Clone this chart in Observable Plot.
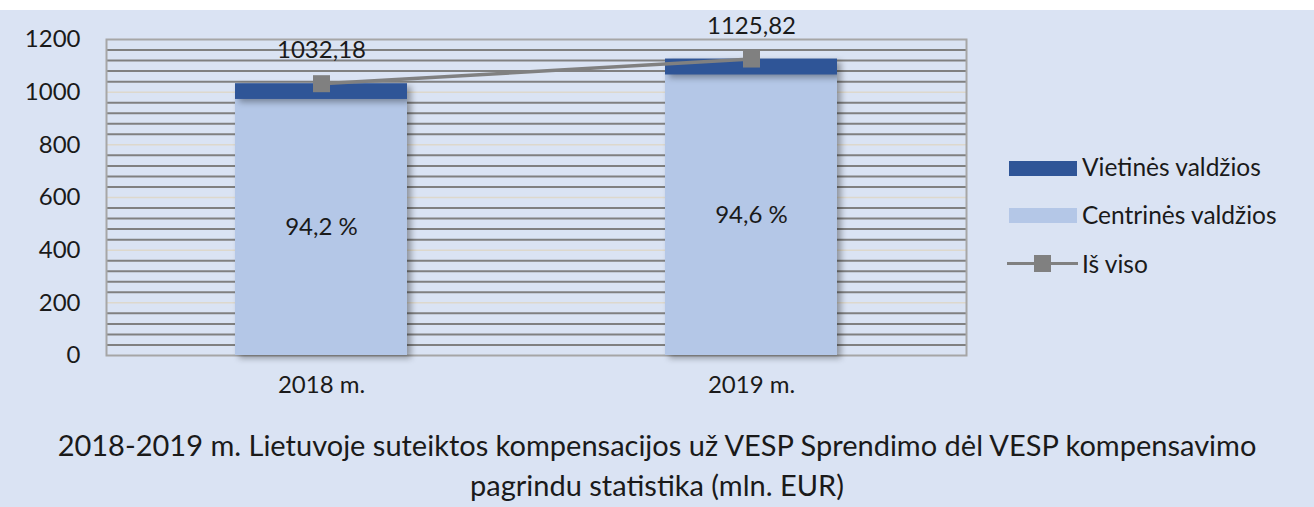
<!DOCTYPE html>
<html>
<head>
<meta charset="utf-8">
<script src="https://cdn.jsdelivr.net/npm/d3@7"></script>
<script src="https://cdn.jsdelivr.net/npm/@observablehq/plot@0.6"></script>
<style>
  html, body { margin: 0; padding: 0; background: #dae3f3; }
  body { width: 1314px; height: 507px; overflow: hidden; position: relative; font-family: Lato, "Open Sans", sans-serif; }
  #topstrip { height: 10px; background: #ffffff; }
  #chart { position: relative; height: 400px; }
  #title { text-align: center; font-size: 29px; line-height: 40px; color: #1a1a1a; margin-top: 15px; white-space: nowrap; }
  #legend { position: absolute; left: 1007px; top: 150px; font-size: 24.5px; color: #1a1a1a; }
  .lg { position: absolute; white-space: nowrap; }
  .sw { position: absolute; }
</style>
</head>
<body>
<div id="topstrip"></div>
<div id="chart"></div>
<div id="title">2018-2019 m. Lietuvoje suteiktos kompensacijos už VESP Sprendimo dėl VESP kompensavimo<br>pagrindu statistika (mln. EUR)</div>
<div id="legend"></div>
<script>
// ---- data ----
const years = ["2018 m.", "2019 m."];
const centrines = [972.31, 1065.03];
const vietines = [59.87, 60.79];
const totals = [1032.18, 1125.82];
const shareLabels = ["94,2 %", "94,6 %"];
const totalLabels = ["1032,18", "1125,82"];
const yTicks = [0, 200, 400, 600, 800, 1000, 1200];
const seriesNames = ["Vietinės valdžios", "Centrinės valdžios", "Iš viso"];
const colors = { dark: "#2f5597", light: "#b4c7e7", line: "#808080" };

const rows = years.map((y, i) => ({
  year: y, central: centrines[i], local: vietines[i], total: totals[i],
  top: centrines[i] + vietines[i], share: shareLabels[i], totalLabel: totalLabels[i]
}));
const minor = d3.range(40, 1200, 40).filter(d => d % 200 !== 0);
const major = yTicks.filter(d => d > 0 && d < 1200);
const FS = 24;

const chart = Plot.plot({
  width: 1314,
  height: 400,
  marginLeft: 106,
  marginRight: 348,
  marginTop: 29,
  marginBottom: 55,
  style: { background: "transparent", fontFamily: "Lato, 'Open Sans', sans-serif", color: "#1a1a1a" },
  x: { domain: years, paddingInner: 0.6, paddingOuter: 0.3 },
  y: { domain: [0, 1200] },
  marks: [
    Plot.ruleY(major, { stroke: "#ddd8cc", strokeWidth: 1.5 }),
    Plot.ruleY(minor, { stroke: "#808080", strokeWidth: 2 }),
    Plot.frame({ stroke: "#a6a6a6", strokeWidth: 2 }),
    Plot.axisY({ ticks: yTicks, tickFormat: d => String(d), label: null, tickSize: 0, tickPadding: 26, fontSize: FS, fill: "#1a1a1a" }),
    Plot.axisX({ label: null, tickSize: 0, tickPadding: 20, fontSize: FS, fill: "#1a1a1a" }),
    Plot.barY(rows, { x: "year", y1: 0, y2: "central", fill: colors.light }),
    Plot.barY(rows, { x: "year", y1: "central", y2: "top", fill: colors.dark }),
    Plot.text(rows, { x: "year", y: d => d.central / 2, text: "share", fontSize: FS, fill: "#1a1a1a" }),
    Plot.line(rows, { x: "year", y: "total", stroke: colors.line, strokeWidth: 3.5 }),
    Plot.dot(rows, { x: "year", y: "total", symbol: "square", r: 9.6, fill: colors.line, stroke: "none" }),
    Plot.text(rows, { x: "year", y: "total", text: "totalLabel", dy: -33, fontSize: FS, fill: "#1a1a1a" })
  ]
});
document.getElementById("chart").appendChild(chart);

// drop shadow on the bars like the original
d3.select(chart).selectAll("g[aria-label='bar']").attr("style", "filter: drop-shadow(4px 3px 3px rgba(0,0,0,0.35))");

// ---- legend ----
const legend = document.getElementById("legend");
legend.innerHTML = `
  <div class="sw" style="left:2px;top:11px;width:68px;height:15px;background:${colors.dark}"></div>
  <div class="lg" style="left:75px;top:2px;">${seriesNames[0]}</div>
  <div class="sw" style="left:2px;top:58px;width:68px;height:15px;background:${colors.light}"></div>
  <div class="lg" style="left:75px;top:50px;">${seriesNames[1]}</div>
  <div class="sw" style="left:0px;top:112px;width:71px;height:3px;background:${colors.line}"></div>
  <div class="sw" style="left:27px;top:105px;width:17px;height:17px;background:${colors.line}"></div>
  <div class="lg" style="left:75px;top:99px;">${seriesNames[2]}</div>
`;
</script>
</body>
</html>
